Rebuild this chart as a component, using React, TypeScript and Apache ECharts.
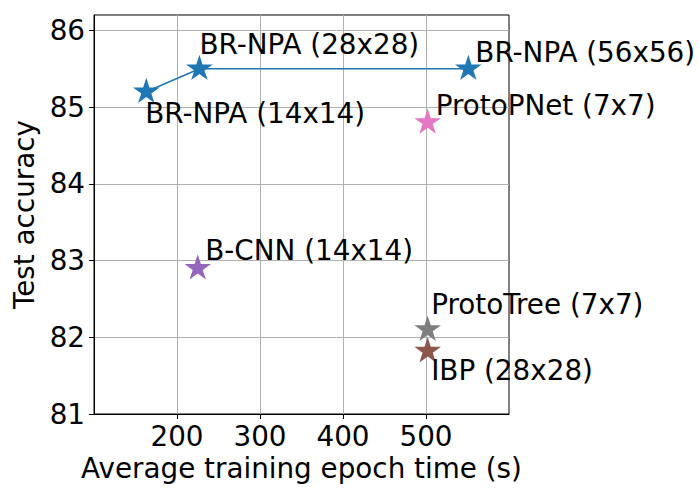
import React, { useEffect, useRef } from "react";
import * as echarts from "echarts";

const methods = [
  "BR-NPA (14x14)",
  "BR-NPA (28x28)",
  "BR-NPA (56x56)",
  "ProtoPNet (7x7)",
  "B-CNN (14x14)",
  "ProtoTree (7x7)",
  "IBP (28x28)",
];
const epochTime = [163, 227, 551, 502, 225, 502, 502];
const testAccuracy = [85.2, 85.5, 85.5, 84.8, 82.9, 82.1, 81.82];
const xTicks = [200, 300, 400, 500];
const yTicks = [81, 82, 83, 84, 85, 86];

// styling (not data)
const colors = ["#1f77b4", "#1f77b4", "#1f77b4", "#e377c2", "#9467bd", "#7f7f7f", "#8c564b"];
const labelOffsets: [number, number][] = [
  [-1, 23],
  [0, -22.7],
  [7, -15.3],
  [8, -15.7],
  [7.5, -16.5],
  [3.5, -23.5],
  [3.5, 20.3],
];

const STAR =
  "path://M0,-100 L-22.45,-30.9 L-95.11,-30.9 L-36.33,11.8 L-58.78,80.9 L0,38.2 L58.78,80.9 L36.33,11.8 L95.11,-30.9 L22.45,-30.9 Z";
const FONT = "DejaVu Sans";
const FS = 27.8;

export default function App() {
  const ref = useRef<HTMLDivElement>(null);
  useEffect(() => {
    if (!ref.current) return;
    const chart = echarts.init(ref.current, null, { renderer: "svg" });

    const mkLabel = (i: number) => ({
      show: true,
      position: "inside",
      align: "left",
      verticalAlign: "middle",
      offset: labelOffsets[i],
      formatter: methods[i],
      color: "#000",
      fontFamily: FONT,
      fontSize: FS,
    });
    const pt = (i: number) => ({
      value: [epochTime[i], testAccuracy[i]],
      label: mkLabel(i),
      itemStyle: { color: colors[i] },
    });

    const brIdx = [0, 1, 2];
    const otherIdx = [3, 4, 5, 6];

    const series: any[] = [
      {
        type: "line",
        name: "BR-NPA",
        data: brIdx.map(pt),
        symbol: STAR,
        symbolSize: [26.6, 25.3],
        symbolOffset: [0, -1.3],
        showAllSymbol: true,
        clip: false,
        lineStyle: { color: colors[0], width: 1.5 },
        itemStyle: { color: colors[0] },
        z: 3,
      },
      ...otherIdx.map((i, k) => ({
        type: "scatter",
        name: methods[i],
        data: [pt(i)],
        symbol: STAR,
        symbolSize: [26.6, 25.3],
        symbolOffset: [0, -1.3],
        clip: false,
        itemStyle: { color: colors[i], opacity: 1 },
        z: 3 + k,
      })),
    ];

    chart.setOption({
      animation: false,
      textStyle: { fontFamily: FONT },
      grid: {
        left: 94,
        top: 15,
        width: 415,
        height: 399,
        show: true,
        borderColor: "#000",
        borderWidth: 1,
        backgroundColor: "transparent",
      },
      xAxis: {
        type: "value",
        min: 100,
        max: 600,
        interval: 100,
        name: "Average training epoch time (s)",
        nameLocation: "middle",
        nameGap: 40,
        nameTextStyle: { fontFamily: FONT, fontSize: FS, color: "#000" },
        axisLine: { show: true, onZero: false, lineStyle: { color: "#000", width: 1 } },
        axisTick: { show: true, length: 5, customValues: xTicks, lineStyle: { color: "#000" } },
        axisLabel: {
          customValues: xTicks,
          margin: 8,
          fontFamily: FONT,
          fontSize: FS,
          color: "#000",
        },
        splitLine: { show: true, lineStyle: { color: "#b0b0b0", width: 1 } },
      },
      yAxis: {
        type: "value",
        min: 81,
        max: 86.2,
        interval: 1,
        name: "Test accuracy",
        nameLocation: "middle",
        nameGap: 50,
        nameTextStyle: { fontFamily: FONT, fontSize: FS, color: "#000" },
        axisLine: { show: true, onZero: false, lineStyle: { color: "#000", width: 1 } },
        axisTick: { show: true, length: 5, customValues: yTicks, lineStyle: { color: "#000" } },
        axisLabel: {
          customValues: yTicks,
          margin: 9,
          fontFamily: FONT,
          fontSize: FS,
          color: "#000",
          formatter: (v: number) => String(v),
        },
        splitLine: { show: true, lineStyle: { color: "#b0b0b0", width: 1 } },
      },
      series,
    });
    return () => chart.dispose();
  }, []);
  return (
    <div
      ref={ref}
      style={{ position: "fixed", left: 0, top: 0, width: 700, height: 500, background: "#fff" }}
    />
  );
}
